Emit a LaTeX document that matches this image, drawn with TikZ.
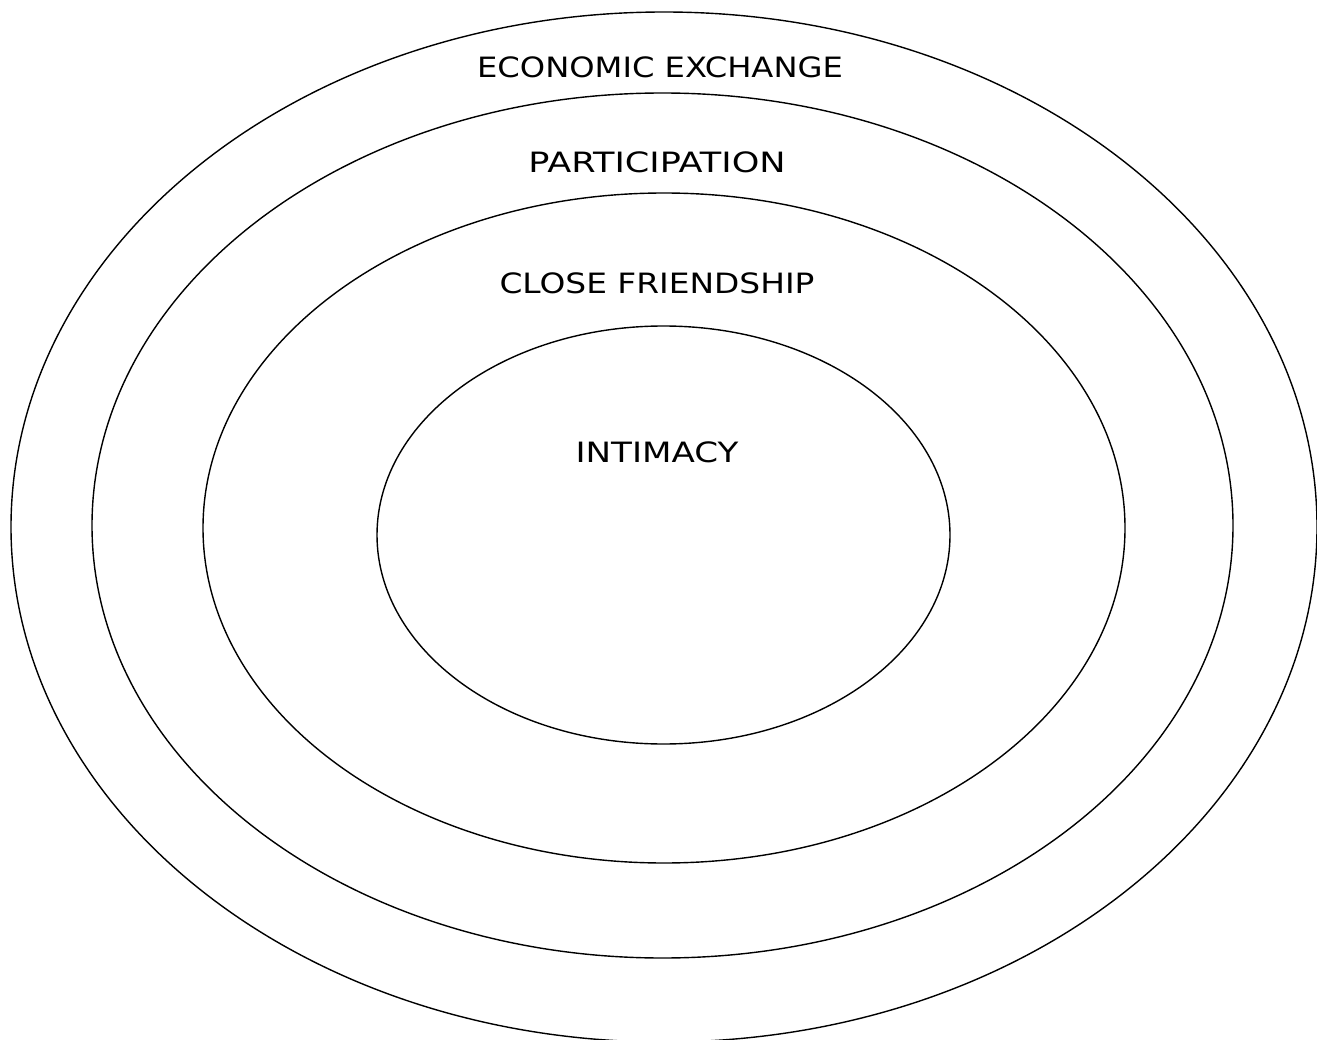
\documentclass[tikz,border=0pt]{standalone}
\usepackage{fontspec}
\setmainfont{DejaVu Sans}
\usetikzlibrary{shapes.geometric}
\begin{document}
\begin{tikzpicture}[x=1pt,y=-1pt,
  ring/.style={draw,ellipse,line width=1.4pt,inner sep=0pt},
  lbl/.style={anchor=base,font=\fontsize{28}{32}\selectfont,inner sep=0pt,xscale=1.15}]
\useasboundingbox (0,0) rectangle (1317,1040);
\node[ring,minimum width=1306pt,minimum height=1030pt] (outer) at (664,527) {};
\node[ring,minimum width=1141pt,minimum height=865pt] (second) at (662.5,525.5) {};
\node[ring,minimum width=922pt,minimum height=670pt] (third) at (664,528) {};
\node[ring,minimum width=573pt,minimum height=418pt] (inner) at (663.5,535) {};
\node[lbl] (econ) at (660,78) {ECONOMIC EXCHANGE};
\node[lbl,xscale=1.09] (part) at (657,173) {PARTICIPATION};
\node[lbl,xscale=1.02] (close) at (657,294) {CLOSE FRIENDSHIP};
\node[lbl,xscale=1.06] (intim) at (657,462) {INTIMACY};
\end{tikzpicture}
\end{document}
